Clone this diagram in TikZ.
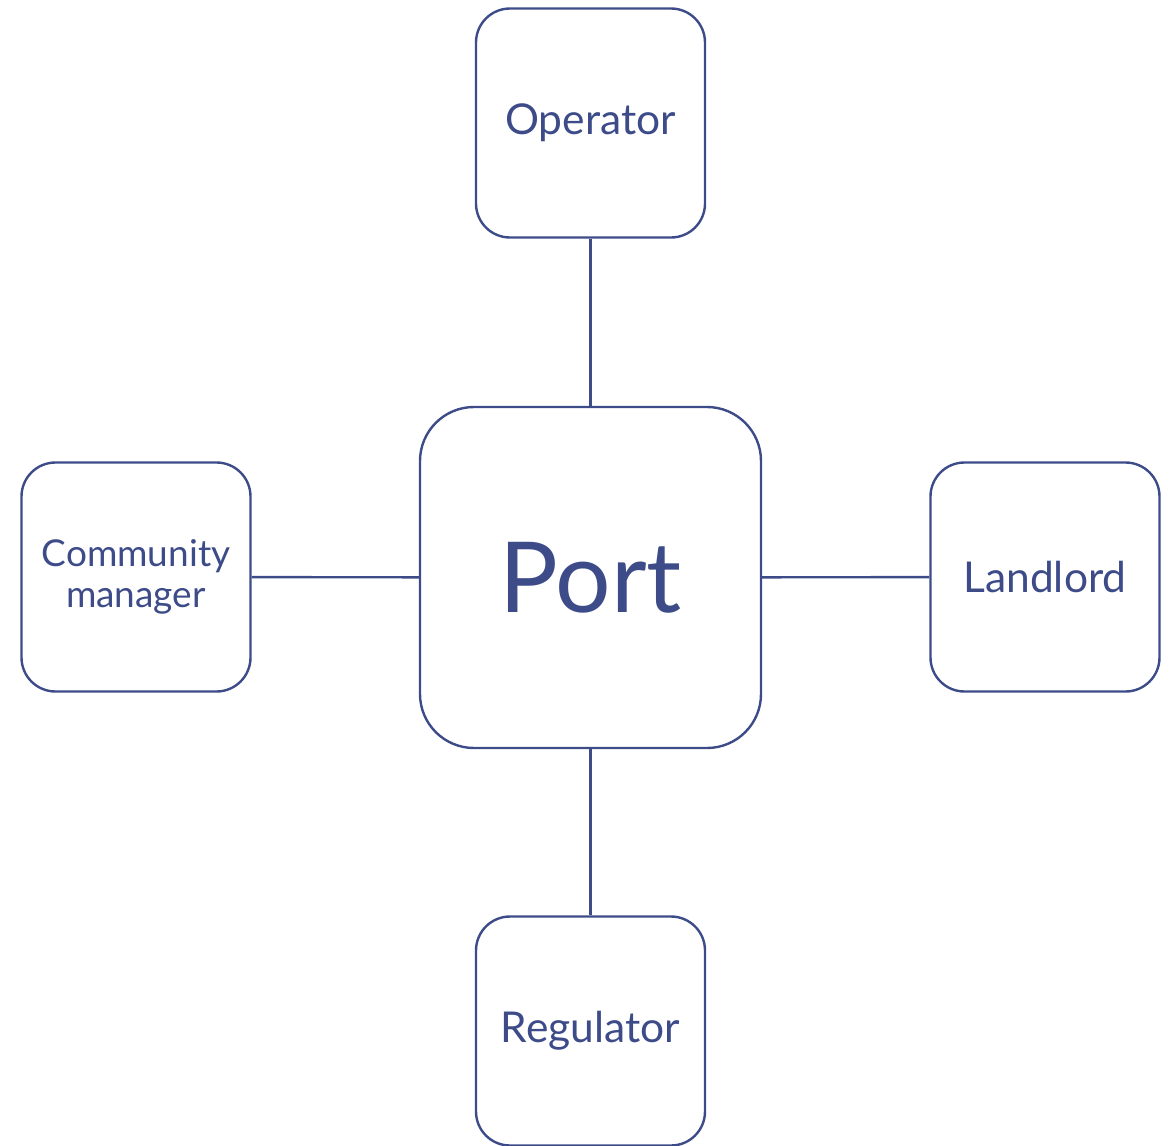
\documentclass[tikz,border=0pt]{standalone}
\usepackage{fontspec}
\setmainfont{Lato}
\definecolor{navy}{HTML}{3D4C89}
\begin{document}
\begin{tikzpicture}[x=1pt,y=-1pt,
  box/.style={draw=navy, line width=2.4pt, rounded corners=34pt,
    minimum width=229pt, minimum height=229pt, inner sep=0pt,
    text=navy, font=\fontsize{42.5}{50}\selectfont, align=center},
  hub/.style={box, rounded corners=54pt, minimum width=341pt, minimum height=341pt,
    font=\fontsize{98}{110}\selectfont},
  link/.style={draw=navy, line width=2.4pt}]
  \useasboundingbox (0,0) rectangle (1173,1146);
  \node[hub] (port) at (590.5,577.5) {Port};
  \node[box] (op) at (590.5,123) {Operator};
  \node[box] (reg) at (590.5,1031) {Regulator};
  \node[box] (land) at (1045,577) {Landlord};
  \node[box, font=\fontsize{37}{41}\selectfont] (comm) at (136,577) {Community\\manager};
  \draw[link] (op) -- (port);
  \draw[link] (port) -- (reg);
  \draw[link] (comm) -- (port);
  \draw[link] (port) -- (land);
\end{tikzpicture}
\end{document}
